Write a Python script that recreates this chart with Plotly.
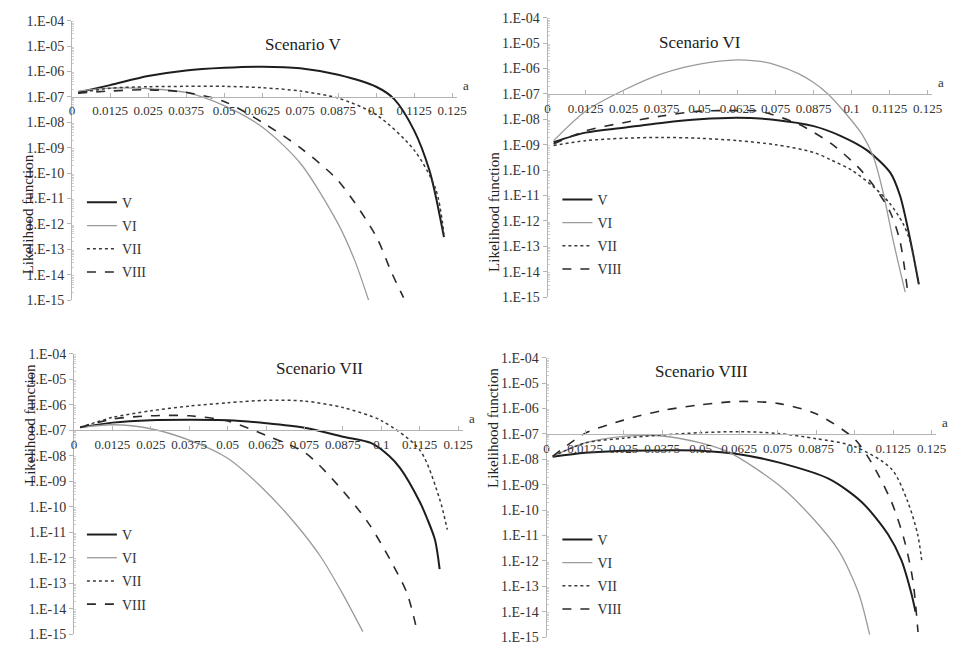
import plotly.graph_objects as go

W, H = 959, 651

# ---------------- data ----------------
series_names = ["V", "VI", "VII", "VIII"]
x_ticks = [0, 0.0125, 0.025, 0.0375, 0.05, 0.0625, 0.075, 0.0875, 0.1, 0.1125, 0.125]
x_ticktext = ["0", "0.0125", "0.025", "0.0375", "0.05", "0.0625", "0.075", "0.0875", "0.1", "0.1125", "0.125"]
y_ticks = [1e-4, 1e-5, 1e-6, 1e-7, 1e-8, 1e-9, 1e-10, 1e-11, 1e-12, 1e-13, 1e-14, 1e-15]
y_ticktext = ["1.E-04", "1.E-05", "1.E-06", "1.E-07", "1.E-08", "1.E-09", "1.E-10",
              "1.E-11", "1.E-12", "1.E-13", "1.E-14", "1.E-15"]
panel_titles = ["Scenario V", "Scenario VI", "Scenario VII", "Scenario VIII"]

# Scenario V
s5_V_x = [0.002, 0.0125, 0.025, 0.0375, 0.05, 0.0625, 0.075, 0.0875, 0.1, 0.106, 0.1125, 0.1175, 0.1196, 0.1223]
s5_V_y = [1.5e-7, 2.9e-7, 6.6e-7, 1.1e-6, 1.4e-6, 1.55e-6, 1.35e-6, 7.4e-7, 2.5e-7, 8e-8, 4.7e-9, 1.3e-10, 1.2e-11, 3e-13]
s5_VI_x = [0.002, 0.0125, 0.025, 0.0375, 0.05, 0.0625, 0.075, 0.0875, 0.093, 0.0975]
s5_VI_y = [1.7e-7, 2.2e-7, 2.1e-7, 1.5e-7, 4.5e-8, 6.5e-9, 2.5e-10, 1e-12, 3.5e-14, 1e-15]
s5_VII_x = [0.002, 0.0125, 0.025, 0.0375, 0.05, 0.0625, 0.075, 0.0875, 0.1, 0.1125, 0.1196, 0.1223]
s5_VII_y = [1.4e-7, 2.2e-7, 2.5e-7, 2.6e-7, 2.6e-7, 2.3e-7, 1.7e-7, 8.9e-8, 2e-8, 8e-10, 2.3e-11, 4e-13]
s5_VIII_x = [0.002, 0.0125, 0.025, 0.0375, 0.05, 0.0625, 0.075, 0.0875, 0.1, 0.105, 0.109]
s5_VIII_y = [1.4e-7, 1.7e-7, 1.9e-7, 1.5e-7, 6.6e-8, 1e-8, 1e-9, 5e-11, 3.2e-13, 1.26e-14, 1.26e-15]

# Scenario VI
s6_V_x = [0.002, 0.0125, 0.025, 0.0375, 0.05, 0.0625, 0.075, 0.0875, 0.0965, 0.1051, 0.1127, 0.1159, 0.1192, 0.1221]
s6_V_y = [1.26e-9, 3.0e-9, 4.7e-9, 7.2e-9, 1.0e-8, 1.15e-8, 9.5e-9, 5.4e-9, 2.2e-9, 6e-10, 8e-11, 1.0e-11, 2.0e-13, 3.2e-15]
s6_VI_x = [0.002, 0.0125, 0.025, 0.0375, 0.05, 0.0625, 0.07, 0.075, 0.0825, 0.0875, 0.0922, 0.0965, 0.1035, 0.1072, 0.1104, 0.1137, 0.1176]
s6_VI_y = [1.45e-9, 2.1e-8, 1.4e-7, 6.2e-7, 1.5e-6, 2.2e-6, 1.9e-6, 1.4e-6, 6.3e-7, 2.8e-7, 1e-7, 2.8e-8, 2.5e-9, 3.2e-10, 1.26e-11, 1.6e-13, 1.6e-15]
s6_VII_x = [0.002, 0.0125, 0.025, 0.0375, 0.05, 0.0625, 0.075, 0.0875, 0.0933, 0.1, 0.1072, 0.1125, 0.1169, 0.1192, 0.1221]
s6_VII_y = [9.3e-10, 1.45e-9, 1.8e-9, 1.95e-9, 1.8e-9, 1.45e-9, 1e-9, 5e-10, 2.5e-10, 1e-10, 2.2e-11, 5e-12, 7.9e-13, 1.6e-13, 3.2e-15]
s6_VIII_x = [0.002, 0.0125, 0.025, 0.0375, 0.05, 0.0625, 0.0695, 0.0825, 0.0933, 0.1019, 0.1072, 0.1127, 0.1159, 0.1185]
s6_VIII_y = [1.07e-9, 3.5e-9, 7.4e-9, 1.35e-8, 2.1e-8, 2.2e-8, 2.1e-8, 6.5e-9, 1.1e-9, 1.4e-10, 2.5e-11, 2.2e-12, 1.6e-13, 1.4e-15]

# Scenario VII
s7_V_x = [0.002, 0.0125, 0.025, 0.0375, 0.05, 0.0625, 0.075, 0.0875, 0.0966, 0.1025, 0.1062, 0.1126, 0.1149, 0.1175, 0.119]
s7_V_y = [1.3e-7, 2.0e-7, 2.5e-7, 2.6e-7, 2.5e-7, 1.9e-7, 1.26e-7, 5.6e-8, 3.2e-8, 1e-8, 3.2e-9, 1.5e-10, 3.5e-11, 5e-12, 3.6e-13]
s7_VI_x = [0.002, 0.0125, 0.025, 0.0375, 0.05, 0.0612, 0.072, 0.0805, 0.0869, 0.094]
s7_VI_y = [1.3e-7, 1.65e-7, 1.15e-7, 4.1e-8, 8e-9, 5.6e-10, 2.2e-11, 1e-12, 5e-14, 1.26e-15]
s7_VII_x = [0.002, 0.0125, 0.025, 0.0375, 0.05, 0.0625, 0.075, 0.0875, 0.1, 0.1125, 0.119, 0.1215]
s7_VII_y = [1.3e-7, 3.2e-7, 5.8e-7, 8.9e-7, 1.2e-6, 1.5e-6, 1.4e-6, 7.8e-7, 2.4e-7, 1.7e-8, 2.0e-10, 1.26e-11]
s7_VIII_x = [0.002, 0.0125, 0.025, 0.0375, 0.05, 0.0625, 0.0754, 0.086, 0.0956, 0.103, 0.1084, 0.1117]
s7_VIII_y = [1.3e-7, 2.75e-7, 3.7e-7, 3.7e-7, 2.3e-7, 6.3e-8, 1.26e-8, 6.8e-10, 2.5e-11, 7.9e-13, 4e-14, 1.26e-15]

# Scenario VIII
s8_V_x = [0.002, 0.0125, 0.025, 0.0375, 0.05, 0.0625, 0.0756, 0.0917, 0.1023, 0.1109, 0.1152, 0.1184, 0.1198]
s8_V_y = [1.26e-8, 1.8e-8, 2.2e-8, 2.25e-8, 2.2e-8, 1.6e-8, 7.4e-9, 1.7e-9, 2.1e-10, 1.1e-11, 1.07e-12, 5.5e-14, 1e-14]
s8_VI_x = [0.002, 0.0125, 0.025, 0.0375, 0.05, 0.0596, 0.0756, 0.0863, 0.0949, 0.1013, 0.1049]
s8_VI_y = [1.3e-8, 4.4e-8, 8e-8, 8.3e-8, 4.4e-8, 1.8e-8, 9.3e-10, 5e-11, 2.5e-12, 5.5e-14, 1.26e-15]
s8_VII_x = [0.002, 0.0125, 0.025, 0.0375, 0.05, 0.0625, 0.075, 0.0875, 0.1, 0.112, 0.1173, 0.1205, 0.1218]
s8_VII_y = [1.3e-8, 4.4e-8, 6.8e-8, 9.1e-8, 1.12e-7, 1.23e-7, 1.05e-7, 6.5e-8, 3.2e-8, 4.2e-9, 2.1e-10, 1.1e-11, 1.07e-12]
s8_VIII_x = [0.002, 0.0125, 0.025, 0.0375, 0.05, 0.0625, 0.075, 0.0875, 0.1, 0.1055, 0.112, 0.1162, 0.1189, 0.1206]
s8_VIII_y = [1.3e-8, 1.05e-7, 3.5e-7, 8.3e-7, 1.4e-6, 1.9e-6, 1.6e-6, 6.2e-7, 6.3e-8, 7.4e-9, 2.1e-10, 6.3e-12, 1.8e-13, 1.6e-15]

panels = [
    [(s5_V_x, s5_V_y), (s5_VI_x, s5_VI_y), (s5_VII_x, s5_VII_y), (s5_VIII_x, s5_VIII_y)],
    [(s6_V_x, s6_V_y), (s6_VI_x, s6_VI_y), (s6_VII_x, s6_VII_y), (s6_VIII_x, s6_VIII_y)],
    [(s7_V_x, s7_V_y), (s7_VI_x, s7_VI_y), (s7_VII_x, s7_VII_y), (s7_VIII_x, s7_VIII_y)],
    [(s8_V_x, s8_V_y), (s8_VI_x, s8_VI_y), (s8_VII_x, s8_VII_y), (s8_VIII_x, s8_VIII_y)],
]

# ---------------- styles / layout (pixels) ----------------
styles = [
    dict(color="#1e1e1e", width=2.0, dash="solid"),
    dict(color="#9a9a9a", width=1.3, dash="solid"),
    dict(color="#3a3a3a", width=1.5, dash="dot"),
    dict(color="#2a2a2a", width=1.6, dash="dash"),
]
# (x_left, x_right, y_top(1E-04), y_bottom(1E-15)) in pixels
boxes = [(70, 460, 14, 300), (552, 942, 11, 297), (72, 466, 355, 642), (551, 946, 359, 645)]
titles_pos = [(264, 27), (750, 25), (275, 370), (757, 373)]
legend_pos = [(80, 184), (562, 181), (80, 524), (562, 529)]

FONT = "Liberation Serif, Times New Roman, DejaVu Serif, serif"
AX = "#b4b4b4"
TXT = "#333333"

minor_vals = [m * 10.0 ** e for e in range(-15, -4) for m in range(2, 10)]

fig = go.Figure()
layout = dict(
    width=W, height=H, margin=dict(l=0, r=0, t=0, b=0),
    paper_bgcolor="white", plot_bgcolor="white",
    font=dict(family=FONT, color=TXT),
    annotations=[],
)

for i, (box, series) in enumerate(zip(boxes, panels)):
    n = i + 1
    sfx = "" if n == 1 else str(n)
    xl, xr, yt, yb = box
    dom_x = [xl / W, xr / W]
    dom_y = [1 - yb / H, 1 - yt / H]
    y_1e7 = yt + (yb - yt) * 3 / 11
    leg = "legend" if n == 1 else f"legend{n}"
    for j, (xs, ys) in enumerate(series):
        fig.add_trace(go.Scatter(
            x=xs, y=ys, mode="lines", name=series_names[j],
            line=dict(shape="spline", smoothing=0.8, **styles[j]),
            xaxis=f"x{sfx}", yaxis=f"y{sfx}", legend=leg,
            legendgroup=f"{n}-{j}", showlegend=True,
        ))
    layout[f"xaxis{sfx}"] = dict(
        domain=dom_x, range=[0, 0.1265], anchor="free", position=1 - y_1e7 / H,
        tickmode="array", tickvals=x_ticks, ticktext=x_ticktext,
        ticks="inside", ticklen=4, tickcolor=AX, showline=True, linecolor=AX, linewidth=1,
        showgrid=False, zeroline=False, ticklabelstandoff=2,
        tickfont=dict(family=FONT, size=13, color=TXT),
    )
    layout[f"yaxis{sfx}"] = dict(
        domain=dom_y, type="log", range=[-15, -4], anchor=f"x{sfx}",
        tickmode="array", tickvals=y_ticks, ticktext=y_ticktext,
        ticks="outside", ticklen=4, tickcolor=AX, showline=True, linecolor=AX, linewidth=1,
        showgrid=False, zeroline=False, tickfont=dict(family=FONT, size=14, color=TXT),
        minor=dict(tickmode="array", tickvals=minor_vals, ticks="inside", ticklen=2, tickcolor="#d0d0d0"),
    )
    lx, ly = legend_pos[i]
    layout[leg] = dict(
        x=lx / W, y=1 - ly / H, xanchor="left", yanchor="top",
        bgcolor="rgba(0,0,0,0)", font=dict(family=FONT, size=14, color=TXT),
        tracegroupgap=2, itemwidth=30,
    )
    tx, ty = titles_pos[i]
    layout["annotations"].append(dict(
        text=panel_titles[i], x=tx / W, y=1 - ty / H, xref="paper", yref="paper",
        showarrow=False, font=dict(family=FONT, size=17, color="#222"),
    ))
    layout["annotations"].append(dict(
        text="Likelihood function", x=(xl - 55) / W, y=1 - ((yt + yb) / 2 - 8) / H,
        xref="paper", yref="paper", textangle=-90, showarrow=False,
        font=dict(family=FONT, size=15, color="#222"),
    ))
    layout["annotations"].append(dict(
        text="a", x=(xr + 4) / W, y=1 - (y_1e7 - 2) / H, xref="paper", yref="paper",
        xanchor="left", yanchor="bottom", showarrow=False,
        font=dict(family=FONT, size=13, color=TXT),
    ))

fig.update_layout(**layout)
fig.write_html("out.html")
